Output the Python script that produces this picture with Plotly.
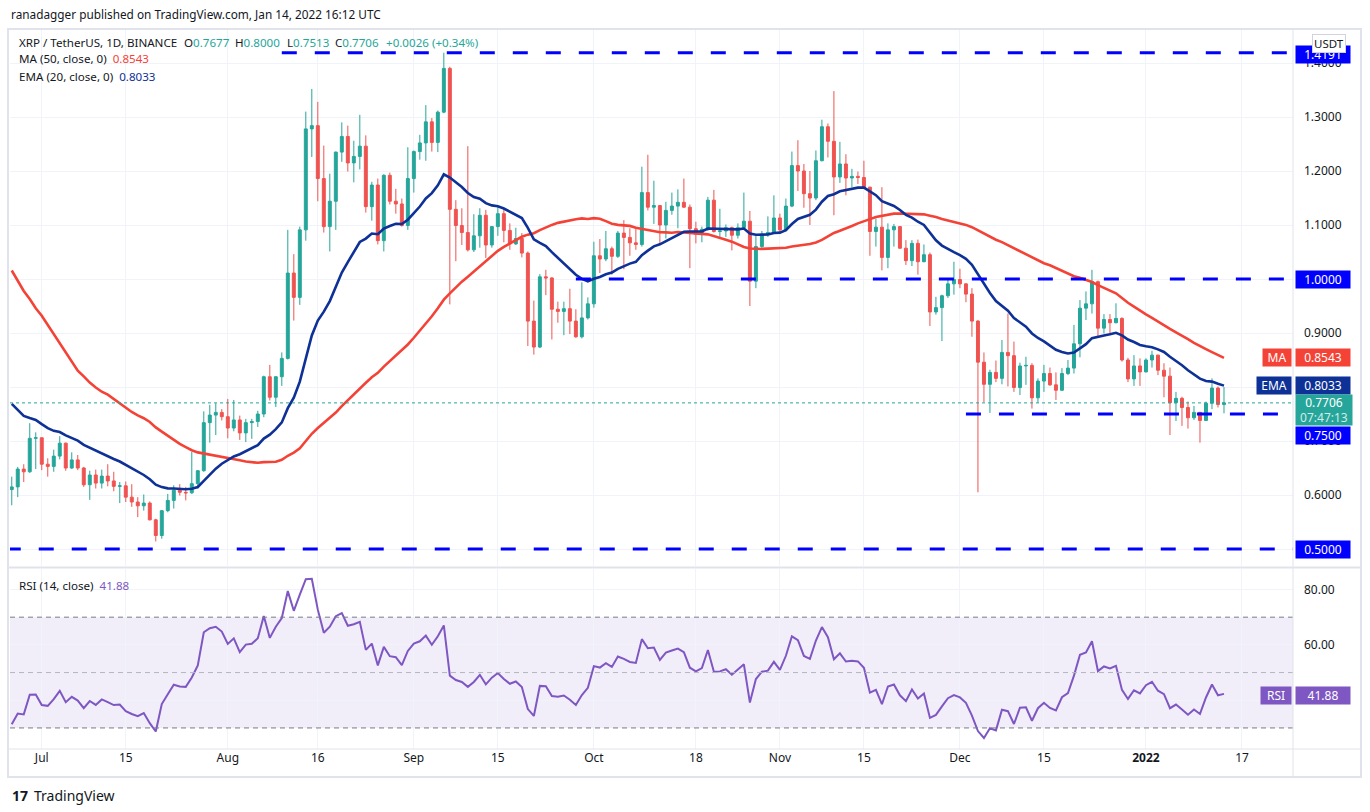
import pandas as pd
import plotly.graph_objects as go

FONT = "Noto Sans"
TXT = "#131722"
UP = "#26a69a"
DOWN = "#ef5350"

# closes before the visible window (May 7 - Jun 25 2021), only used to warm up MA/EMA/RSI
prior_closes = [1.55, 1.60, 1.58, 1.45, 1.56, 1.36, 1.50, 1.60, 1.50, 1.55,
                1.45, 1.47, 1.15, 1.21, 1.07, 1.03, 0.90, 1.02, 0.99, 1.04,
                0.97, 0.90, 0.84, 0.90, 1.03, 0.96, 0.99, 1.01, 0.94, 0.90,
                0.91, 0.85, 0.83, 0.87, 0.83, 0.83, 0.82, 0.85, 0.86, 0.85,
                0.79, 0.81, 0.76, 0.77, 0.79, 0.68, 0.63, 0.67, 0.69, 0.61]

first_day = "2021-06-26"

# daily candles, Jun 26 2021 -> Jan 14 2022 (open = previous close)
closes = [0.615, 0.648, 0.643, 0.705, 0.706, 0.657, 0.653, 0.672, 0.696, 0.650,
          0.665, 0.650, 0.619, 0.637, 0.622, 0.635, 0.626, 0.616, 0.617, 0.596,
          0.587, 0.580, 0.585, 0.554, 0.525, 0.571, 0.590, 0.609, 0.605, 0.604,
          0.621, 0.645, 0.734, 0.748, 0.753, 0.745, 0.724, 0.739, 0.715, 0.734,
          0.736, 0.750, 0.819, 0.781, 0.819, 0.853, 1.011, 0.966, 1.091, 1.278,
          1.284, 1.186, 1.097, 1.144, 1.235, 1.264, 1.215, 1.227, 1.246, 1.134,
          1.174, 1.071, 1.192, 1.144, 1.139, 1.099, 1.186, 1.236, 1.252, 1.291,
          1.253, 1.309, 1.390, 1.129, 1.099, 1.086, 1.054, 1.080, 1.118, 1.063,
          1.097, 1.121, 1.090, 1.065, 1.075, 1.048, 0.922, 0.874, 1.004, 1.002,
          0.944, 0.940, 0.945, 0.922, 0.893, 0.928, 0.954, 1.043, 1.037, 1.056,
          1.042, 1.085, 1.077, 1.067, 1.064, 1.160, 1.133, 1.136, 1.100, 1.127,
          1.135, 1.142, 1.133, 1.093, 1.083, 1.092, 1.146, 1.088, 1.089, 1.095,
          1.081, 1.095, 1.107, 0.996, 1.060, 1.083, 1.086, 1.113, 1.091, 1.135,
          1.210, 1.200, 1.158, 1.150, 1.219, 1.282, 1.255, 1.189, 1.213, 1.187,
          1.190, 1.188, 1.170, 1.088, 1.096, 1.040, 1.091, 1.097, 1.057, 1.034,
          1.066, 1.032, 1.045, 0.939, 0.947, 0.969, 0.991, 0.999, 0.991, 0.972,
          0.922, 0.846, 0.805, 0.827, 0.816, 0.864, 0.858, 0.799, 0.839, 0.840,
          0.780, 0.811, 0.825, 0.804, 0.794, 0.825, 0.835, 0.880, 0.946, 0.954,
          0.995, 0.909, 0.925, 0.919, 0.927, 0.850, 0.815, 0.839, 0.828, 0.850,
          0.859, 0.831, 0.820, 0.771, 0.779, 0.762, 0.743, 0.753, 0.738, 0.770,
          0.798, 0.7677, 0.7706]

highs = [0.634, 0.652, 0.657, 0.733, 0.716, 0.706, 0.668, 0.684, 0.709, 0.697,
         0.679, 0.674, 0.652, 0.645, 0.647, 0.647, 0.657, 0.643, 0.624, 0.625,
         0.620, 0.596, 0.601, 0.588, 0.556, 0.572, 0.602, 0.618, 0.620, 0.615,
         0.680, 0.646, 0.755, 0.767, 0.770, 0.759, 0.778, 0.776, 0.747, 0.741,
         0.741, 0.756, 0.821, 0.841, 0.820, 0.864, 1.091, 1.046, 1.097, 1.310,
         1.352, 1.328, 1.247, 1.195, 1.236, 1.290, 1.284, 1.256, 1.304, 1.266,
         1.180, 1.186, 1.194, 1.197, 1.167, 1.149, 1.244, 1.238, 1.267, 1.322,
         1.298, 1.312, 1.4191, 1.393, 1.146, 1.131, 1.246, 1.120, 1.131, 1.128,
         1.098, 1.134, 1.131, 1.103, 1.095, 1.085, 1.051, 0.960, 1.009, 1.017,
         1.003, 0.958, 0.958, 0.982, 0.944, 0.994, 0.966, 1.069, 1.074, 1.089,
         1.060, 1.089, 1.109, 1.094, 1.094, 1.208, 1.230, 1.182, 1.137, 1.143,
         1.160, 1.166, 1.186, 1.138, 1.106, 1.097, 1.152, 1.165, 1.130, 1.101,
         1.097, 1.103, 1.160, 1.126, 1.081, 1.089, 1.116, 1.155, 1.121, 1.149,
         1.236, 1.257, 1.213, 1.200, 1.238, 1.295, 1.288, 1.348, 1.254, 1.231,
         1.204, 1.199, 1.219, 1.171, 1.112, 1.170, 1.103, 1.102, 1.098, 1.072,
         1.072, 1.073, 1.064, 1.049, 0.967, 0.971, 1.002, 1.032, 1.019, 0.992,
         0.983, 0.924, 0.864, 0.832, 0.849, 0.887, 0.936, 0.884, 0.845, 0.856,
         0.844, 0.816, 0.841, 0.836, 0.827, 0.835, 0.850, 0.915, 0.961, 0.977,
         1.017, 0.997, 0.935, 0.935, 0.955, 0.929, 0.854, 0.859, 0.853, 0.853,
         0.867, 0.860, 0.844, 0.836, 0.791, 0.782, 0.773, 0.765, 0.754, 0.773,
         0.816, 0.801, 0.8000]

lows = [0.581, 0.596, 0.624, 0.641, 0.648, 0.646, 0.634, 0.643, 0.666, 0.645,
        0.648, 0.646, 0.615, 0.591, 0.612, 0.612, 0.616, 0.607, 0.585, 0.587,
        0.578, 0.559, 0.571, 0.553, 0.514, 0.519, 0.568, 0.575, 0.599, 0.590,
        0.602, 0.612, 0.643, 0.697, 0.711, 0.738, 0.705, 0.718, 0.702, 0.698,
        0.704, 0.726, 0.744, 0.775, 0.763, 0.802, 0.851, 0.923, 0.952, 1.071,
        1.226, 1.144, 1.086, 1.051, 1.091, 1.217, 1.199, 1.179, 1.203, 1.123,
        1.108, 1.064, 1.051, 1.138, 1.121, 1.097, 1.091, 1.160, 1.221, 1.219,
        1.236, 1.235, 1.307, 0.953, 1.033, 1.063, 1.051, 1.050, 1.058, 1.039,
        1.058, 1.080, 1.068, 1.054, 1.063, 1.040, 0.876, 0.860, 0.872, 0.970,
        0.888, 0.919, 0.896, 0.898, 0.891, 0.890, 0.925, 0.947, 1.011, 1.033,
        1.008, 1.039, 1.018, 1.043, 1.054, 1.060, 1.127, 1.102, 1.066, 1.075,
        1.119, 1.094, 1.132, 1.020, 1.066, 1.068, 1.089, 1.086, 1.075, 1.078,
        1.053, 1.075, 1.091, 0.950, 0.983, 1.057, 1.078, 1.084, 1.088, 1.088,
        1.133, 1.163, 1.132, 1.100, 1.146, 1.218, 1.225, 1.118, 1.178, 1.155,
        1.170, 1.176, 1.167, 1.043, 1.060, 1.016, 1.020, 1.060, 1.056, 1.026,
        1.024, 1.008, 1.031, 0.913, 0.934, 0.885, 0.965, 0.971, 0.983, 0.957,
        0.893, 0.605, 0.772, 0.752, 0.809, 0.805, 0.801, 0.791, 0.785, 0.804,
        0.760, 0.771, 0.791, 0.802, 0.776, 0.793, 0.822, 0.825, 0.855, 0.924,
        0.936, 0.894, 0.899, 0.898, 0.918, 0.847, 0.809, 0.802, 0.802, 0.827,
        0.836, 0.822, 0.781, 0.711, 0.737, 0.728, 0.723, 0.739, 0.697, 0.737,
        0.759, 0.762, 0.7513]

# horizontal levels drawn on the chart and the day each one starts
level_prices = [1.4191, 1.0, 0.75, 0.5]
level_starts = ["2021-08-10", "2021-09-28", "2021-12-02", "2021-06-25"]
level_labels = ["1.4191", "1.0000", "0.7500", "0.5000"]

last_price = 0.7706
last_ma = 0.8543
last_ema = 0.8033
last_rsi = 41.88

price_ticks = [0.5, 0.6, 0.7, 0.8, 0.9, 1.0, 1.1, 1.2, 1.3, 1.4]
rsi_ticks = [40, 60, 80]
date_ticks = ["2021-07-01", "2021-07-15", "2021-08-01", "2021-08-16", "2021-09-01",
              "2021-09-15", "2021-10-01", "2021-10-18", "2021-11-01", "2021-11-15",
              "2021-12-01", "2021-12-15", "2022-01-01", "2022-01-17"]
date_labels = ["Jul", "15", "Aug", "16", "Sep", "15", "Oct", "18", "Nov", "15",
               "Dec", "15", "<b>2022</b>", "17"]

# ---- indicators
n = len(closes)
dates = pd.date_range(first_day, periods=n, freq="D")
opens = [prior_closes[-1]] + closes[:-1]
allc = pd.Series(prior_closes + closes)
ma50 = allc.rolling(50).mean().iloc[-n:].values
ema20 = allc.ewm(span=20, adjust=False).mean().iloc[-n:].values
delta = allc.diff().fillna(0)
gain = delta.clip(lower=0).ewm(alpha=1 / 14, adjust=False).mean()
loss = (-delta.clip(upper=0)).ewm(alpha=1 / 14, adjust=False).mean()
rsi = (100 - 100 / (1 + gain / loss)).iloc[-n:].values

# ---- pixel helpers (plot area 10..1293 x 30..749)
PL, PR, PT, PB = 10, 1293, 30, 749
def px(x):
    return (x - PL) / (PR - PL)
def py(y):
    return (PB - y) / (PB - PT)

x_left = dates[0] - pd.Timedelta(hours=7)
x_right = dates[0] + pd.Timedelta(days=213.5)

fig = go.Figure()
fig.add_trace(go.Candlestick(
    x=dates, open=opens, high=highs, low=lows, close=closes,
    increasing=dict(line=dict(color=UP, width=1), fillcolor=UP),
    decreasing=dict(line=dict(color=DOWN, width=1), fillcolor=DOWN),
    whiskerwidth=0, hoverinfo="skip", xaxis="x", yaxis="y"))
fig.add_trace(go.Scatter(x=dates, y=ma50, mode="lines",
                         line=dict(color="#f44336", width=2.6), hoverinfo="skip",
                         xaxis="x", yaxis="y"))
fig.add_trace(go.Scatter(x=dates, y=ema20, mode="lines",
                         line=dict(color="#0d3196", width=2.6), hoverinfo="skip",
                         xaxis="x", yaxis="y"))
fig.add_trace(go.Scatter(x=dates, y=rsi, mode="lines",
                         line=dict(color="#7e57c2", width=2), hoverinfo="skip",
                         xaxis="x2", yaxis="y2"))

shapes = []
# rsi band
shapes.append(dict(type="rect", xref="paper", x0=0, x1=1, yref="y2", y0=30, y1=70,
                   fillcolor="rgba(126,87,194,0.1)", line=dict(width=0), layer="below"))
for lv, col in [(70, "#787b86"), (50, "#b2b5be"), (30, "#787b86")]:
    shapes.append(dict(type="line", xref="paper", x0=0, x1=1, yref="y2", y0=lv, y1=lv,
                       line=dict(color=col, width=1, dash="5px,4px")))
# level lines
for p, s in zip(level_prices, level_starts):
    shapes.append(dict(type="line", xref="x", x0=s, x1=x_right, yref="y", y0=p, y1=p,
                       line=dict(color="#0000ff", width=3, dash="15px,18px")))
# last price dotted line
shapes.append(dict(type="line", xref="paper", x0=0, x1=1, yref="y", y0=last_price,
                   y1=last_price, line=dict(color=UP, width=1, dash="dot")))
# frame lines
BORDER = "#e0e3eb"
shapes.append(dict(type="line", xref="paper", yref="paper", x0=px(8), x1=px(1361),
                   y0=py(567.5), y1=py(567.5), line=dict(color=BORDER, width=2)))
shapes.append(dict(type="line", xref="paper", yref="paper", x0=px(8), x1=px(1361),
                   y0=py(749), y1=py(749), line=dict(color=BORDER, width=1)))
shapes.append(dict(type="line", xref="paper", yref="paper", x0=1, x1=1,
                   y0=py(777), y1=py(29), line=dict(color=BORDER, width=1)))
shapes.append(dict(type="rect", xref="paper", yref="paper", x0=px(8), x1=px(1361),
                   y0=py(777), y1=py(29), line=dict(color=BORDER, width=2)))

ann = []
def txt(x, y, s, color=TXT, size=11.6, **kw):
    ann.append(dict(xref="paper", yref="paper", x=px(x), y=py(y), text=s, showarrow=False,
                    xanchor="left", yanchor="middle",
                    font=dict(family=FONT, size=size, color=color), **kw))

def price_box(yval, s, bg, yref="y", yshift=0, height=15):
    ann.append(dict(xref="paper", x=1, xanchor="left", xshift=2, yref=yref, y=yval,
                    yanchor="middle", yshift=yshift, text=s, showarrow=False,
                    bgcolor=bg, width=52, height=height, borderpad=1,
                    font=dict(family=FONT, size=12, color="white")))

def name_box(yval, s, bg, w, yref="y"):
    ann.append(dict(xref="paper", x=1, xanchor="right", xshift=-1, yref=yref, y=yval,
                    yanchor="middle", text=s, showarrow=False, bgcolor=bg, width=w,
                    height=15, borderpad=1, font=dict(family=FONT, size=12, color="white")))

def span(s, c):
    return "<span style='color:%s'>%s</span>" % (c, s)

txt(9, 14, "ranadagger published on TradingView.com, Jan 14, 2022 16:12 UTC", size=11.8)
txt(17, 42, "XRP / TetherUS, 1D, BINANCE")
txt(182, 42, "O" + span("0.7677", UP))
txt(233, 42, "H" + span("0.8000", UP))
txt(285, 42, "L" + span("0.7513", UP))
txt(333, 42, "C" + span("0.7706", UP))
txt(384, 42, span("+0.0026 (+0.34%)", UP))
txt(17, 59, "MA (50, close, 0)  " + span("%.4f" % last_ma, "#f44336"))
txt(17, 76, "EMA (20, close, 0)  " + span("%.4f" % last_ema, "#0d3196"))
txt(17, 585, "RSI (14, close)  " + span("%.2f" % last_rsi, "#7e57c2"))

for p, lab in zip(level_prices, level_labels):
    shift = {"0.7500": -21, "1.4191": -2}.get(lab, 0)
    price_box(p, lab, "#0000ff", yshift=shift)
price_box(last_ma, "%.4f" % last_ma, "#f44336")
name_box(last_ma, "MA", "#f44336", 26)
price_box(last_ema, "%.4f" % last_ema, "#0d3196")
name_box(last_ema, "EMA", "#0d3196", 32)
ann.append(dict(xref="paper", x=1, xanchor="left", xshift=2, yref="y", y=last_price,
                yanchor="top", yshift=9, showarrow=False, bgcolor=UP, width=54, height=28,
                borderpad=1, text="0.7706<br>" + span("07:47:13", "rgba(255,255,255,0.8)"),
                font=dict(family=FONT, size=12, color="white")))
price_box(last_rsi, "%.2f" % last_rsi, "#7e57c2", yref="y2")
name_box(last_rsi, "RSI", "#7e57c2", 28, yref="y2")
ann.append(dict(xref="paper", yref="paper", x=px(1312), y=py(34), xanchor="left",
                yanchor="top", text="USDT", showarrow=False, bgcolor="white",
                bordercolor="#d1d4dc", borderwidth=1, borderpad=1,
                font=dict(family=FONT, size=11.5, color=TXT)))
txt(10, 795, "<b>17</b>", size=14)
txt(32, 795, "TradingView", size=14)

grid = "#f0f3fa"
fig.update_layout(
    width=1370, height=812, autosize=False,
    margin=dict(l=PL, r=1370 - PR, t=PT, b=812 - PB),
    paper_bgcolor="white", plot_bgcolor="white",
    showlegend=False, hovermode=False,
    shapes=shapes, annotations=ann,
    xaxis=dict(domain=[0, 1], anchor="y", range=[x_left, x_right],
               rangeslider=dict(visible=False), tickvals=date_ticks, ticktext=date_labels,
               showticklabels=False, showgrid=True, gridcolor=grid, zeroline=False,
               showline=False),
    xaxis2=dict(domain=[0, 1], anchor="y2", matches="x", range=[x_left, x_right],
                tickvals=date_ticks, ticktext=date_labels, showgrid=True, gridcolor=grid,
                zeroline=False, showline=False, ticks="",
                tickfont=dict(family=FONT, size=12, color=TXT)),
    yaxis=dict(domain=[py(566), 1], anchor="x", side="right",
               range=[1 - (566 - 279) / 540, 1 + (279 - 30) / 540],
               tickvals=price_ticks, ticktext=["%.4f" % v for v in price_ticks],
               showgrid=True, gridcolor=grid, zeroline=False, ticks="",
               ticklabelstandoff=10, automargin=False,
               tickfont=dict(family=FONT, size=12, color=TXT)),
    yaxis2=dict(domain=[0, py(569)], anchor="x2", side="right", range=[22.4, 87.4],
                tickvals=rsi_ticks, ticktext=["%.2f" % v for v in rsi_ticks],
                showgrid=True, gridcolor=grid, zeroline=False, ticks="",
                ticklabelstandoff=10, automargin=False,
                tickfont=dict(family=FONT, size=12, color=TXT)),
)

# the page body has a default 8px margin; drop it so the chart sits at the window corner
fig.write_html("out.html", config={"displayModeBar": False},
               post_script="document.body.style.margin='0px';")
